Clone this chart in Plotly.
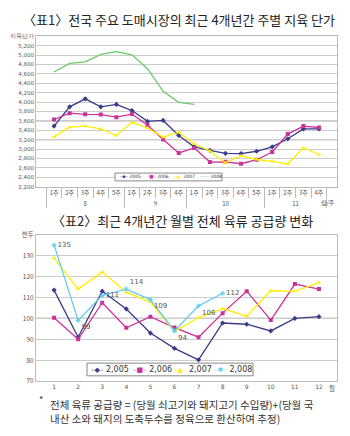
import plotly.graph_objects as go

# ---------- Data: chart 1 (weekly carcass price) ----------
months1 = ["8"] * 5 + ["9"] * 4 + ["10"] * 5 + ["11"] * 4
weeks1 = ["1주", "2주", "3주", "4주", "5주",
          "1주", "2주", "3주", "4주",
          "1주", "2주", "3주", "4주", "5주",
          "1주", "2주", "3주", "4주"]
price_2005 = [3490, 3900, 4070, 3900, 3950, 3820, 3590, 3610, 3290,
              3050, 2975, 2910, 2905, 2955, 3050, 3220, 3430, 3430]
price_2006 = [3630, 3765, 3740, 3735, 3680, 3745, 3515, 3205, 2920,
              3025, 2725, 2730, 2690, 2775, 2940, 3320, 3490, 3460]
price_2007 = [3260, 3468, 3490, 3430, 3290, 3570, 3450, 3255, 3360,
              3110, 2960, 2710, 2860, 2780, 2740, 2685, 3030, 2880]
price_2008 = [4640, 4825, 4855, 5015, 5075, 5005, 4710, 4230, 3995, 3950]
y1_ticks = list(range(2200, 5401, 200))
y1_text = [f"{v:,}" for v in y1_ticks[:-1]] + ["지육단가"]
legend1_names = ["2005", "2006", "2007", "2008"]

# ---------- Data: chart 2 (monthly meat supply) ----------
months2 = [str(m) for m in range(1, 13)]
supply_2005 = [113.5, 91, 113, 104.5, 93, 85.7, 80.2, 97.8, 97.2, 94, 100, 100.8]
supply_2006 = [100.3, 90, 107.5, 95.5, 100.8, 95.6, 91, 102.5, 113, 99.2, 116.4, 114]
supply_2007 = [128.8, 114, 122.1, 112.5, 107.8, 93.8, 100.3, 104.7, 101, 113.2, 112.9, 117.1]
supply_2008 = [135, 99, 111, 114, 109, 94, 106, 112]
label_2008 = [str(int(v)) for v in supply_2008]
y2_ticks = list(range(70, 141, 10))
y2_text = [str(v) for v in y2_ticks[:-1]] + ["천두"]
legend2_names = ["2,005", "2,006", "2,007", "2,008"]

KR = "Noto Sans CJK KR"
C05, C06, C07 = "#3b3b8c", "#cc3399", "#ffee00"
C08a, C08b = "#66cc66", "#66ccee"

fig = go.Figure()
x1 = [months1, weeks1]
x1_08 = [months1[:len(price_2008)], weeks1[:len(price_2008)]]

def add(x, y, color, symbol, xa, ya, mode="lines+markers", **kw):
    m = dict(symbol=symbol, size=4) if symbol else None
    fig.add_trace(go.Scatter(x=x, y=y, mode=mode, line=dict(color=color, width=1.3),
                             marker=m, xaxis=xa, yaxis=ya, showlegend=False, **kw))

add(x1, price_2005, C05, "diamond", "x", "y")
add(x1, price_2006, C06, "square", "x", "y")
add(x1, price_2007, C07, "triangle-up", "x", "y")
add(x1_08, price_2008, C08a, None, "x", "y", mode="lines")

add(months2, supply_2005, C05, "diamond", "x2", "y2")
add(months2, supply_2006, C06, "square", "x2", "y2")
add(months2, supply_2007, C07, "triangle-up", "x2", "y2")
fig.add_trace(go.Scatter(x=months2[:len(supply_2008)], y=supply_2008,
                         mode="lines+markers+text", text=label_2008,
                         textposition=["middle right", "bottom right", "middle right", "top right",
                                       "bottom right", "bottom right", "bottom right", "middle right"],
                         textfont=dict(size=7, color="#555555", family="DejaVu Sans"),
                         line=dict(color=C08b, width=1.3),
                         marker=dict(symbol="asterisk-open", size=4, line=dict(color=C08b, width=1)),
                         xaxis="x2", yaxis="y2", showlegend=False))

grid = "#cccccc"
axis_line = "#bbbbbb"
tickfont = dict(size=6, color="#555555", family=KR)

fig.update_layout(
    width=350, height=436,
    margin=dict(l=0, r=0, t=0, b=0),
    paper_bgcolor="white", plot_bgcolor="white",
    showlegend=False,
    xaxis=dict(domain=[36/350, 337/350], anchor="y", type="multicategory",
               showline=True, mirror=True, linecolor=axis_line, linewidth=1,
               showgrid=False, ticks="outside", tickson="boundaries", ticklen=10,
               tickcolor=axis_line, showdividers=True, dividercolor=axis_line, dividerwidth=1,
               tickangle=0, tickfont=tickfont),
    yaxis=dict(domain=[1-185/436, 1-31/436], anchor="x", range=[2200, 5400],
               tickvals=y1_ticks, ticktext=y1_text, showgrid=True, gridcolor=grid, gridwidth=1,
               showline=True, mirror=True, linecolor=axis_line, zeroline=False,
               tickfont=dict(size=5.5, color="#555555", family="DejaVu Sans"), ticks=""),
    xaxis2=dict(domain=[36/350, 337/350], anchor="y2", type="category",
                showline=True, mirror=True, linecolor=axis_line, linewidth=1,
                showgrid=False, ticks="", tickangle=0,
                tickfont=dict(size=6, color="#555555", family="DejaVu Sans")),
    yaxis2=dict(domain=[1-384/436, 1-234/436], anchor="x2", range=[70, 140],
                tickvals=y2_ticks, ticktext=y2_text, showgrid=True, gridcolor=grid, gridwidth=1,
                showline=True, mirror=True, linecolor=axis_line, zeroline=False,
                tickfont=dict(size=6.5, color="#555555", family=KR), ticks=""),
)

# emphasized reference gridlines
for yv in (3600, 3200):
    fig.add_shape(type="line", xref="x domain", yref="y", x0=0, x1=1, y0=yv, y1=yv,
                  line=dict(color="#999999", width=1), layer="below")
fig.add_shape(type="line", xref="x2 domain", yref="y2", x0=0, x1=1, y0=100, y1=100,
              line=dict(color="#999999", width=1.2), layer="below")

# legend boxes
fig.add_shape(type="rect", xref="paper", yref="paper", x0=115/350, x1=222/350,
              y0=1-179/436, y1=1-171/436, fillcolor="white", line=dict(color="#888888", width=1),
              layer="above")
fig.add_shape(type="rect", xref="paper", yref="paper", x0=87/350, x1=253/350,
              y0=1-378.5/436, y1=1-365.5/436, fillcolor="white", line=dict(color="#888888", width=1),
              layer="above")

sym1 = [("◆", C05), ("■", C06), ("▲", C07), ("", C08a)]
pos1 = [118, 145, 172, 198]
for name, (s, c), px in zip(legend1_names, sym1, pos1):
    glyph = f"–{s}–" if s else "——"
    fig.add_annotation(xref="paper", yref="paper", showarrow=False, xanchor="left", yanchor="middle",
                       x=px/350, y=1-175/436,
                       text=f"<span style='color:{c}'>{glyph}</span> {name}",
                       font=dict(size=4.5, family="DejaVu Sans", color="#333333"))

sym2 = [("◆", C05), ("■", C06), ("▲", C07), ("✱", C08b)]
pos2 = [89, 131, 172, 212]
for name, (s, c), px in zip(legend2_names, sym2, pos2):
    fig.add_annotation(xref="paper", yref="paper", showarrow=False, xanchor="left", yanchor="middle",
                       x=px/350, y=1-372/436,
                       text=f"<span style='color:{c};font-size:7px'>–{s}–</span> {name}",
                       font=dict(size=8, family="DejaVu Sans", color="#333333"))

ann = [
    dict(text="〈표1〉전국 주요 도매시장의 최근 4개년간 주별 지육 단가", x=179/350, y=1-14/436,
         font=dict(size=13, family=KR, color="#222222"), xanchor="center", yanchor="middle"),
    dict(text="〈표2〉최근 4개년간 월별 전체 육류 공급량 변화", x=182/350, y=1-220/436,
         font=dict(size=13, family=KR, color="#222222"), xanchor="center", yanchor="middle"),
    dict(text="월/주", x=328/350, y=1-201.5/436, font=dict(size=6, family=KR, color="#555555"),
         xanchor="center", yanchor="middle"),
    dict(text="월", x=332/350, y=1-391/436, font=dict(size=6.5, family=KR, color="#555555"),
         xanchor="center", yanchor="middle"),
    dict(text="*", x=41/350, y=1-403/436, font=dict(size=9, family=KR, color="#333333"),
         xanchor="center", yanchor="middle"),
    dict(text="전체 육류 공급량 = (당월 쇠고기와 돼지고기 수입량)+(당월 국<br>"
              "내산 소와 돼지의 도축두수를 정육으로 환산하여 추정)",
         x=48/350, y=1-415/436, align="left",
         font=dict(size=10.5, family=KR, color="#333333"), xanchor="left", yanchor="middle"),
]
for a in ann:
    fig.add_annotation(xref="paper", yref="paper", showarrow=False, **a)

fig.write_html("out.html")
